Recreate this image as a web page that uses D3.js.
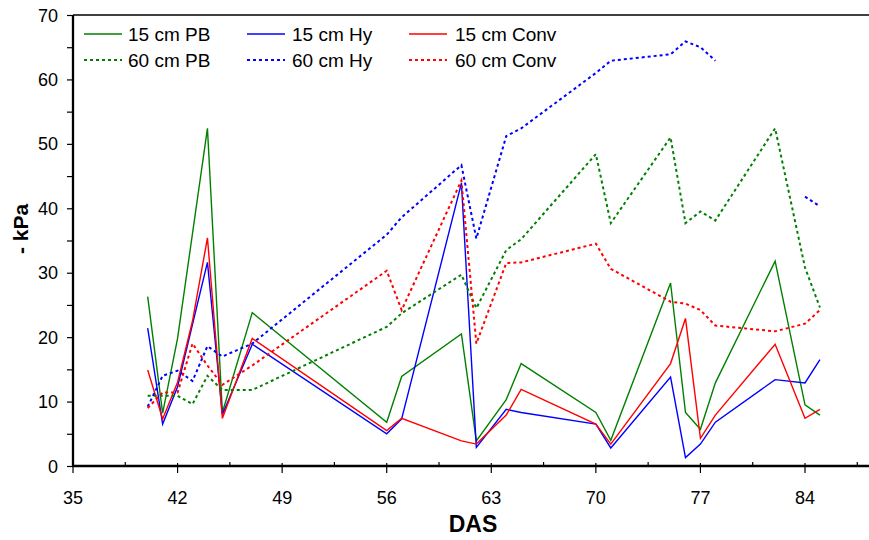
<!DOCTYPE html>
<html>
  <head>
    <title>soil water tension</title>
    <meta charset="UTF-8" />
    <script src="https://d3js.org/d3.v7.min.js"></script>
    <style>
        body { margin: 0; background: #fff; }
        text { font-family: "Liberation Sans", Arial, sans-serif; fill: #000; }
        .line { fill: none; }
    </style>
  </head>
  <body>
    <script>
        // days after sowing
        var days = [40, 41, 42, 43, 44, 45, 47, 56, 57, 61, 62, 64, 65, 70, 71, 75, 76, 77, 78, 82, 84, 85];

        var pb15   = [26.3, 8.2, 19.8, 36.1, 52.4, 8.3, 23.8, 6.8, 13.9, 20.5, 3.9, 10.3, 15.9, 8.3, 4.0, 28.4, 8.3, 5.7, 12.9, 31.8, 9.5, 7.9];
        var hy15   = [21.4, 6.5, 12.3, 22.0, 31.6, 8.0, 18.9, 5.0, 7.3, 43.9, 2.9, 8.8, 8.3, 6.5, 2.8, 13.8, 1.3, 3.4, 6.8, 13.4, 12.9, 16.5];
        var conv15 = [14.9, 7.3, 13.0, 22.5, 35.4, 7.4, 19.8, 5.5, 7.4, 3.9, 3.4, 7.9, 11.9, 6.5, 3.4, 15.9, 22.9, 4.3, 7.9, 18.9, 7.4, 8.8];
        var pb60   = [10.9, 10.9, 10.9, 9.6, 14.0, 11.8, 11.8, 21.6, 23.7, 29.7, 24.5, 33.5, 35.2, 48.4, 37.7, 51.0, 37.7, 39.5, 38.1, 52.4, 30.8, 24.6];
        var hy60   = [9.2, 14.0, 14.8, 13.2, 18.6, 17.0, 19.0, 35.9, 38.6, 46.7, 35.3, 51.2, 52.4, 61.0, 62.9, 63.9, 65.9, 65.0, 62.9, null, 41.8, 40.3];
        var conv60 = [9.0, 11.4, 11.4, 19.0, 15.6, 12.6, 15.6, 30.3, 24.2, 44.3, 19.0, 31.5, 31.6, 34.5, 30.6, 25.5, 25.2, 24.2, 21.8, 20.9, 22.1, 24.2];

        var xTicks = [35, 42, 49, 56, 63, 70, 77, 84];
        var yTicks = [0, 10, 20, 30, 40, 50, 60, 70];

        var series = [
            { name: "15 cm PB",   vals: pb15,   color: "#008000", dotted: false },
            { name: "15 cm Hy",   vals: hy15,   color: "#0000ff", dotted: false },
            { name: "15 cm Conv", vals: conv15, color: "#ff0000", dotted: false },
            { name: "60 cm PB",   vals: pb60,   color: "#008000", dotted: true },
            { name: "60 cm Hy",   vals: hy60,   color: "#0000ff", dotted: true },
            { name: "60 cm Conv", vals: conv60, color: "#ff0000", dotted: true }
        ];

        var width = 869, height = 540;
        var margin = { left: 73, top: 15, right: 0, bottom: 74 };

        var svg = d3.select("body").append("svg")
            .attr("width", width)
            .attr("height", height);

        var xScale = d3.scaleLinear().domain([35, 84]).range([margin.left, 805]);
        var yScale = d3.scaleLinear().domain([0, 70]).range([height - margin.bottom, margin.top]);
        var y0 = yScale(0);

        // top border
        svg.append("line")
            .attr("x1", margin.left).attr("x2", width)
            .attr("y1", margin.top).attr("y2", margin.top)
            .attr("stroke", "#000").attr("stroke-width", 1.5);

        // y axis
        var gy = svg.append("g")
            .attr("transform", "translate(" + margin.left + ",0)")
            .call(d3.axisLeft(yScale).tickValues(d3.range(0, 75, 5)).tickSize(6).tickFormat(""));
        gy.select(".domain").remove();
        gy.selectAll("line").attr("stroke", "#000").attr("stroke-width", 1.2);
        svg.append("line")
            .attr("x1", margin.left).attr("x2", margin.left)
            .attr("y1", margin.top).attr("y2", y0 + 1)
            .attr("stroke", "#000").attr("stroke-width", 2.3);
        svg.selectAll(".ylab").data(yTicks).enter().append("text")
            .attr("class", "ylab")
            .attr("x", 58)
            .attr("y", d => yScale(d) + 6.5)
            .attr("text-anchor", "end")
            .attr("font-size", 18)
            .text(d => d);

        // x axis
        svg.append("line")
            .attr("x1", margin.left - 1).attr("x2", width)
            .attr("y1", y0).attr("y2", y0)
            .attr("stroke", "#000").attr("stroke-width", 2.3);
        var minor = d3.range(38.5, 88, 7);
        svg.selectAll(".xmin").data(minor).enter().append("line")
            .attr("x1", d => xScale(d)).attr("x2", d => xScale(d))
            .attr("y1", y0 - 4).attr("y2", y0)
            .attr("stroke", "#000").attr("stroke-width", 1.2);
        svg.selectAll(".xmaj").data(xTicks).enter().append("line")
            .attr("x1", d => xScale(d)).attr("x2", d => xScale(d))
            .attr("y1", y0 - 3).attr("y2", y0 + 7)
            .attr("stroke", "#000").attr("stroke-width", 1.2);
        svg.selectAll(".xlab").data(xTicks).enter().append("text")
            .attr("x", d => xScale(d))
            .attr("y", 504)
            .attr("text-anchor", "middle")
            .attr("font-size", 18)
            .text(d => d);

        // axis titles
        svg.append("text")
            .attr("x", 473).attr("y", 532)
            .attr("text-anchor", "middle")
            .attr("font-size", 23).attr("font-weight", "bold")
            .text("DAS");
        svg.append("text")
            .attr("transform", "translate(28,229) rotate(-90)")
            .attr("text-anchor", "middle")
            .attr("font-size", 21).attr("font-weight", "bold")
            .text("- kPa");

        // lines
        var line = d3.line()
            .defined(d => d.v != null)
            .x(d => xScale(d.day))
            .y(d => yScale(d.v));

        series.forEach(function(s) {
            var pts = days.map((d, i) => ({ day: d, v: s.vals[i] }));
            svg.append("path")
                .datum(pts)
                .attr("class", "line")
                .attr("d", line)
                .attr("stroke", s.color)
                .attr("stroke-width", s.dotted ? 2 : 1.4)
                .attr("stroke-dasharray", s.dotted ? "3,3" : null);
        });

        // legend
        var legX = [84, 247, 409];
        var legTextX = [128, 292, 455];
        series.forEach(function(s, i) {
            var col = i % 3, row = Math.floor(i / 3);
            var ly = 34 + row * 26;
            svg.append("line")
                .attr("x1", legX[col]).attr("x2", legX[col] + 38)
                .attr("y1", ly).attr("y2", ly)
                .attr("stroke", s.color)
                .attr("stroke-width", s.dotted ? 2 : 1.4)
                .attr("stroke-dasharray", s.dotted ? "3,3" : null);
            svg.append("text")
                .attr("x", legTextX[col]).attr("y", ly + 7)
                .attr("font-size", 19)
                .text(s.name);
        });
    </script>
  </body>
</html>
